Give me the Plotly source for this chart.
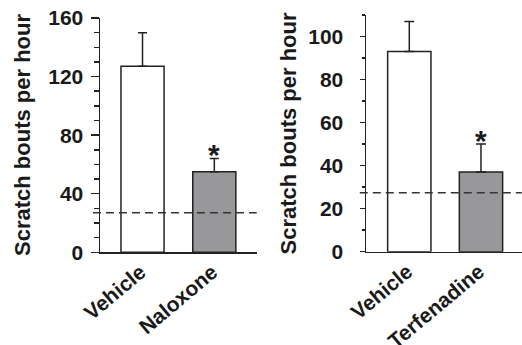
import plotly.graph_objects as go

# Data
left_categories = ["Vehicle", "Naloxone"]
left_values = [127, 55]
left_errors = [23, 9]
left_baseline = 27

right_categories = ["Vehicle", "Terfenadine"]
right_values = [93, 37]
right_errors = [14, 13]
right_baseline = 27.4

y_title = "Scratch bouts per hour"
left_yticks = [0, 40, 80, 120, 160]
right_yticks = [0, 20, 40, 60, 80, 100]

FONT = "Liberation Sans, Arial, sans-serif"
LINE = "#222222"
GRAY = "#98989a"
W, H = 522, 345

fig = go.Figure()

fig.add_trace(go.Bar(
    x=left_categories, y=left_values, xaxis="x", yaxis="y",
    marker=dict(color=["white", GRAY], line=dict(color=LINE, width=1.5)),
    width=0.6,
    error_y=dict(type="data", array=left_errors, arrayminus=[0, 0], symmetric=False,
                 color=LINE, thickness=1.5, width=4.5),
    showlegend=False, hoverinfo="skip",
))
fig.add_trace(go.Bar(
    x=right_categories, y=right_values, xaxis="x2", yaxis="y2",
    marker=dict(color=["white", GRAY], line=dict(color=LINE, width=1.5)),
    width=0.604,
    error_y=dict(type="data", array=right_errors, arrayminus=[0, 0], symmetric=False,
                 color=LINE, thickness=1.5, width=5),
    showlegend=False, hoverinfo="skip",
))

tickfont = dict(family=FONT, size=21, color="#1a1a1a", weight="bold")
xtickfont = dict(family=FONT, size=21, color="#1a1a1a", weight="bold")

def xaxis(domain, anchor, rng):
    return dict(domain=domain, anchor=anchor, range=rng, showline=True, linecolor=LINE,
                linewidth=1.5, ticks="", tickangle=-40, tickfont=xtickfont,
                ticklabelshift=-2, ticklabelstandoff=-2,
                showgrid=False, zeroline=False, fixedrange=True, automargin=False)

def yaxis(domain, anchor, rng, tickvals, ticklen, minorlen, standoff):
    return dict(domain=domain, anchor=anchor, range=rng, showline=True, linecolor=LINE,
                linewidth=1.5, ticks="outside", ticklen=ticklen, tickwidth=1.5,
                tickcolor=LINE, tickvals=tickvals, tickfont=tickfont,
                ticklabelstandoff=standoff,
                minor=dict(dtick=10, ticks="outside", ticklen=minorlen, tickwidth=1.5,
                           tickcolor=LINE, showgrid=False),
                showgrid=False, zeroline=False, fixedrange=True, automargin=False)

fig.update_layout(
    width=W, height=H,
    margin=dict(l=0, r=0, t=0, b=0, autoexpand=False),
    plot_bgcolor="white", paper_bgcolor="white",
    xaxis=xaxis([100 / W, 256.7 / W], "y", [-0.592, 1.59]),
    yaxis=yaxis([1 - 252.3 / H, 1 - 18 / H], "x", [0, 160], left_yticks, 8, 5, 3),
    xaxis2=xaxis([366 / W, 521.7 / W], "y2", [-0.604, 1.568]),
    yaxis2=yaxis([1 - 251.7 / H, 1 - 15 / H], "x2", [0, 110], right_yticks, 5, 3, 12),
    bargap=0.4,
)

dash = dict(color="#333333", width=1.5, dash="8px,5px")
fig.add_shape(type="line", xref="x domain", yref="y", x0=-0.045, x1=1,
              y0=left_baseline, y1=left_baseline, line=dash, layer="above")
fig.add_shape(type="line", xref="x2 domain", yref="y2", x0=-0.04, x1=1,
              y0=right_baseline, y1=right_baseline, line=dash, layer="above")

star_font = dict(family=FONT, size=30, color="#1a1a1a", weight="bold")
fig.add_annotation(x=left_categories[1], y=left_values[1] + left_errors[1], xref="x", yref="y",
                   text="*", showarrow=False, yanchor="middle", yshift=4, font=star_font)
fig.add_annotation(x=right_categories[1], y=right_values[1] + right_errors[1], xref="x2", yref="y2",
                   text="*", showarrow=False, yanchor="middle", yshift=4, font=star_font)

title_font = dict(family=FONT, size=22, color="#1a1a1a", weight="bold")
fig.add_annotation(x=22 / W, y=1 - 135 / H, xref="paper", yref="paper", text=y_title,
                   textangle=-90, showarrow=False, font=title_font,
                   xanchor="center", yanchor="middle")
fig.add_annotation(x=288 / W, y=1 - 133.5 / H, xref="paper", yref="paper", text=y_title,
                   textangle=-90, showarrow=False, font=title_font,
                   xanchor="center", yanchor="middle")

fig.write_html("out.html", config={"displayModeBar": False, "staticPlot": True},
               post_script="document.body.style.margin='0';document.body.style.overflow='hidden';")
